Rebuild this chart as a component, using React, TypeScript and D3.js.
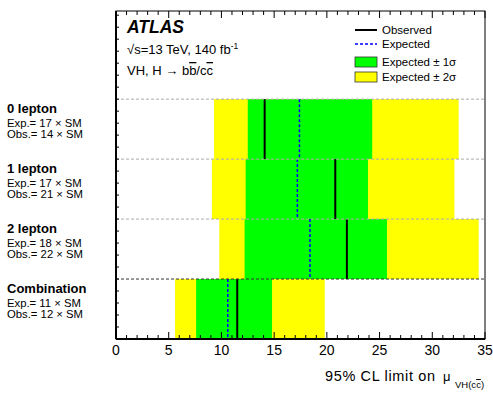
import React from 'react'
import * as d3 from 'd3'

// channels, top to bottom
const channels = ['0 lepton', '1 lepton', '2 lepton', 'Combination']
const expText = ['17', '17', '18', '11']
const obsText = ['14', '21', '22', '12']

// limits on mu
const observed = [14.1, 20.8, 21.9, 11.5]
const expected = [17.4, 17.2, 18.4, 10.6]
const minus1 = [12.5, 12.3, 12.2, 7.6]
const plus1 = [24.3, 23.9, 25.7, 14.8]
const minus2 = [9.3, 9.1, 9.8, 5.6]
const plus2 = [32.5, 32.1, 34.4, 19.8]

const xTicks = [0, 5, 10, 15, 20, 25, 30, 35]

const W = 493
const H = 394
const margin = { top: 11, right: 8, bottom: 55, left: 116 }
const font = 'Liberation Sans, Arial, Helvetica, sans-serif'

const App = () => {
  const ref = React.useRef<SVGSVGElement>(null)

  React.useEffect(() => {
    const node = ref.current
    if (!node) return
    const svg = d3.select(node)
    svg.selectAll('*').remove()

    const x0 = margin.left
    const x1 = W - margin.right
    const y0 = margin.top
    const y1 = H - margin.bottom

    const x = d3.scaleLinear().domain([0, 35]).range([x0, x1])
    // one unit per channel, headroom at the top for the legend
    const y = d3.scaleLinear().domain([0, 5.47]).range([y1, y0])
    const rowTop = (i: number) => y(channels.length - i)
    const rowBot = (i: number) => y(channels.length - i - 1)

    const rows = svg.append('g')
    channels.forEach((c, i) => {
      rows.append('rect')
        .attr('x', x(minus2[i])).attr('y', rowTop(i))
        .attr('width', x(plus2[i]) - x(minus2[i])).attr('height', rowBot(i) - rowTop(i))
        .attr('fill', '#ffff00')
      rows.append('rect')
        .attr('x', x(minus1[i])).attr('y', rowTop(i))
        .attr('width', x(plus1[i]) - x(minus1[i])).attr('height', rowBot(i) - rowTop(i))
        .attr('fill', '#00ff00')
      rows.append('line')
        .attr('x1', x(expected[i])).attr('x2', x(expected[i]))
        .attr('y1', rowTop(i)).attr('y2', rowBot(i))
        .attr('stroke', '#0000ff').attr('stroke-width', 1.5).attr('stroke-dasharray', '3,2')
      rows.append('line')
        .attr('x1', x(observed[i])).attr('x2', x(observed[i]))
        .attr('y1', rowTop(i)).attr('y2', rowBot(i))
        .attr('stroke', '#000').attr('stroke-width', 2)
    })

    // separators
    channels.forEach((c, i) => {
      const last = i === channels.length - 1
      svg.append('line')
        .attr('x1', x0).attr('x2', x1)
        .attr('y1', rowTop(i)).attr('y2', rowTop(i))
        .attr('stroke', last ? '#333' : '#aaa').attr('stroke-width', 1)
        .attr('stroke-dasharray', '3,2')
    })

    // channel labels
    const labels = svg.append('g').attr('font-family', font).attr('fill', '#000')
    channels.forEach((c, i) => {
      const t = rowTop(i)
      labels.append('text').attr('x', 7).attr('y', t + 14)
        .attr('font-size', 13).attr('font-weight', 'bold').text(c)
      labels.append('text').attr('x', 7).attr('y', t + 27.5)
        .attr('font-size', 11.3).text(`Exp.= ${expText[i]} \u00d7 SM`)
      labels.append('text').attr('x', 7).attr('y', t + 39)
        .attr('font-size', 11.3).text(`Obs.= ${obsText[i]} \u00d7 SM`)
    })

    // ticks, top and bottom
    const minor = d3.range(0, 35.01, 1)
    const ticks = svg.append('g').attr('stroke', '#000').attr('stroke-width', 1)
    minor.forEach(v => {
      const major = v % 5 === 0
      const len = major ? 7 : 4
      ticks.append('line').attr('x1', x(v)).attr('x2', x(v))
        .attr('y1', y1).attr('y2', y1 - len)
      ticks.append('line').attr('x1', x(v)).attr('x2', x(v))
        .attr('y1', y0).attr('y2', y0 + len)
    })
    d3.range(0, 5.47, 0.2).forEach(v => {
      ticks.append('line').attr('x1', x0).attr('x2', x0 + 3)
        .attr('y1', y(v)).attr('y2', y(v))
    })

    svg.append('rect')
      .attr('x', x0).attr('y', y0).attr('width', x1 - x0).attr('height', y1 - y0)
      .attr('fill', 'none').attr('stroke', '#000').attr('stroke-width', 1)
    svg.append('line').attr('x1', x0).attr('x2', x0).attr('y1', y0).attr('y2', y1)
      .attr('stroke', '#000').attr('stroke-width', 2)
    svg.append('line').attr('x1', x0).attr('x2', x1).attr('y1', y1).attr('y2', y1)
      .attr('stroke', '#000').attr('stroke-width', 2)

    const tl = svg.append('g').attr('font-family', font).attr('font-size', 14)
      .attr('text-anchor', 'middle')
    xTicks.forEach(v => {
      tl.append('text').attr('x', x(v)).attr('y', y1 + 16).text(v)
    })

    // axis title
    svg.append('text').attr('font-family', font).attr('x', 325).attr('y', 381)
      .attr('font-size', 14.5).attr('textLength', 110).attr('lengthAdjust', 'spacing')
      .text('95% CL limit on')
    const mu = svg.append('text').attr('font-family', font).attr('x', 443).attr('y', 381)
      .attr('font-size', 13)
    mu.append('tspan').text('\u03bc')
    mu.append('tspan').attr('x', 455).attr('y', 388).attr('font-size', 9.5).text('VH(c')
    mu.append('tspan').attr('font-size', 9.5).style('text-decoration', 'overline').text('c')
    mu.append('tspan').attr('font-size', 9.5).text(')')

    // ATLAS label
    svg.append('text').attr('x', 127).attr('y', 33).attr('font-family', font)
      .attr('font-size', 17.5).attr('font-weight', 'bold').attr('font-style', 'italic').text('ATLAS')
    const s = svg.append('text').attr('x', 127).attr('y', 53.5).attr('font-family', font)
      .attr('font-size', 13)
    s.append('tspan').text('\u221as=13 TeV, 140 fb')
    s.append('tspan').attr('dy', -5).attr('font-size', 8.5).text('-1')
    const p = svg.append('text').attr('x', 127).attr('y', 75).attr('font-family', font)
      .attr('font-size', 13)
    p.append('tspan').text('VH, H \u2192 b')
    p.append('tspan').style('text-decoration', 'overline').text('b')
    p.append('tspan').text('/c')
    p.append('tspan').style('text-decoration', 'overline').text('c')

    // legend
    const lg = svg.append('g').attr('font-family', font).attr('font-size', 11.5)
    const lx = 355
    const lw = 22
    lg.append('line').attr('x1', lx).attr('x2', lx + lw).attr('y1', 30).attr('y2', 30)
      .attr('stroke', '#000').attr('stroke-width', 2)
    lg.append('text').attr('x', 382).attr('y', 34).text('Observed')
    lg.append('line').attr('x1', lx).attr('x2', lx + lw).attr('y1', 44).attr('y2', 44)
      .attr('stroke', '#0000ff').attr('stroke-width', 1.5).attr('stroke-dasharray', '3,2')
    lg.append('text').attr('x', 382).attr('y', 48).text('Expected')
    lg.append('rect').attr('x', lx).attr('y', 57).attr('width', lw).attr('height', 10)
      .attr('fill', '#00ff00').attr('stroke', '#333').attr('stroke-width', 0.8)
    lg.append('text').attr('x', 382).attr('y', 66).text('Expected \u00b1 1\u03c3')
    lg.append('rect').attr('x', lx).attr('y', 72).attr('width', lw).attr('height', 10)
      .attr('fill', '#ffff00').attr('stroke', '#333').attr('stroke-width', 0.8)
    lg.append('text').attr('x', 382).attr('y', 81).text('Expected \u00b1 2\u03c3')
  }, [])

  return (
    <div style={{ position: 'absolute', left: 0, top: 0 }}>
      <svg ref={ref} width={W} height={H} style={{ display: 'block', background: '#fff' }} />
    </div>
  )
}

export default App
